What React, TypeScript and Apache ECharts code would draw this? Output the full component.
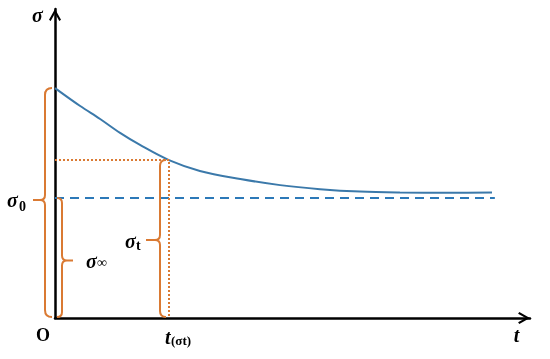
import { useEffect, useRef } from 'react';
import * as echarts from 'echarts';

// ---- data (unitless axes, 0..100) ----
const tValues = [0, 5.3, 9.5, 13.7, 17.9, 24.0, 30.5, 39.0, 47.4, 55.8, 64.2, 72.6, 83.2, 92.0];
const sigmaValues = [74.4, 68.6, 64.4, 59.9, 56.0, 51.1, 47.6, 45.0, 43.0, 41.7, 40.9, 40.6, 40.5, 40.6];
const sigma0 = 74.4;
const sigmaInf = 38.8;
const tAtSigmaT = 24.0;
const sigmaT = 51.1;
const asymptoteEnd = 92.6;
const xMax = 100;
const yMax = 100;

const braceSpans = [
  [0, 0, sigma0],
  [0, 0, sigmaInf],
  [tAtSigmaT, 0, sigmaT],
];
const braceMain = ['σ', 'σ', 'σ'];
const braceSub = ['0', '∞', 't'];

const axisAnchors = [
  [0, 0],
  [0, yMax],
  [xMax, 0],
  [tAtSigmaT, 0],
];

// ---- styles ----
const SERIF = '"Liberation Serif", "DejaVu Serif", serif';
const BLUE = '#3b79aa';
const BLUE_DASH = '#2c79b8';
const ORANGE = '#da7a33';
const ARROW = 'path://M0 10.6 L6 0 L12 10.6 L10.3 11.8 L6 4.2 L1.7 11.8 Z';

const braceLook = [
  { dx: -10, dir: -1, tip: 12, curl: 7, midShift: -2.5, labelDx: -26, labelDy: 0, subDx: 12, subDy: 6, subSize: 14, subWeight: 'bold' },
  { dx: 7, dir: 1, tip: 11, curl: 5, midShift: 3, labelDx: 13, labelDy: 0, subDx: 11, subDy: 2, subSize: 14, subWeight: 'normal' },
  { dx: -9, dir: -1, tip: 14, curl: 6, midShift: 1.5, labelDx: -21, labelDy: 1, subDx: 11, subDy: 4, subSize: 14, subWeight: 'bold' },
];

const axisLook = [
  { parts: [{ text: 'O', dx: -12, dy: 16.5, size: 18, style: 'normal', align: 'center' }] },
  { parts: [{ text: 'σ', dx: -17.5, dy: 5.6, size: 20, style: 'italic', align: 'center' }] },
  { parts: [{ text: 't', dx: -13.5, dy: 17, size: 20, style: 'italic', align: 'center' }] },
  {
    parts: [
      { text: 't', dx: -4, dy: 19, size: 20, style: 'italic', align: 'left' },
      { text: '(σt)', dx: 2, dy: 22, size: 13, style: 'normal', align: 'left' },
    ],
  },
];

function axisCommon(): any {
  return {
    type: 'value',
    axisLine: {
      show: true,
      onZero: true,
      lineStyle: { color: '#000', width: 2.5 },
      symbol: ['none', ARROW],
      symbolSize: [12, 12],
      symbolOffset: [0, -6],
    },
    axisTick: { show: false },
    axisLabel: { show: false },
    splitLine: { show: false },
  };
}

export default function App() {
  const ref = useRef<HTMLDivElement>(null);

  useEffect(() => {
    document.body.style.margin = '0';
    const chart = echarts.init(ref.current!, undefined, { renderer: 'svg' });

    const curve = tValues.map((t, i) => [t, sigmaValues[i]]);

    chart.setOption({
      animation: false,
      grid: { left: 55, right: 20, top: 9, bottom: 41 },
      xAxis: { ...axisCommon(), min: 0, max: xMax },
      yAxis: { ...axisCommon(), min: 0, max: yMax },
      series: [
        {
          type: 'line',
          data: [
            [0, sigmaInf],
            [asymptoteEnd, sigmaInf],
          ],
          showSymbol: false,
          lineStyle: { color: BLUE_DASH, width: 2, type: [9, 6] },
          z: 2,
        },
        {
          type: 'line',
          data: curve,
          smooth: 0.35,
          showSymbol: false,
          lineStyle: { color: BLUE, width: 2 },
          z: 3,
        },
        {
          type: 'line',
          data: [
            [0, sigmaT],
            [tAtSigmaT, sigmaT],
            [tAtSigmaT, 0],
          ],
          showSymbol: false,
          lineStyle: { color: ORANGE, width: 2, type: [2, 2] },
          z: 4,
        },
        {
          type: 'custom',
          coordinateSystem: 'cartesian2d',
          data: braceSpans,
          z: 5,
          renderItem: (params: any, api: any) => {
            const look = braceLook[params.dataIndex];
            const bottom = api.coord([api.value(0), api.value(1)]);
            const top = api.coord([api.value(0), api.value(2)]);
            const x = bottom[0] + look.dx;
            const yb = bottom[1] - 1;
            const yt = top[1];
            const ym = (yt + yb) / 2 + look.midShift;
            const d = look.dir;
            const c = look.curl;
            const k = 5;
            const tipX = x + d * look.tip;
            const pathData = [
              `M ${x - d * c} ${yt}`,
              `Q ${x} ${yt} ${x} ${yt + c}`,
              `L ${x} ${ym - k}`,
              `Q ${x} ${ym} ${x + d * k} ${ym}`,
              `L ${tipX} ${ym}`,
              `M ${x + d * k} ${ym}`,
              `Q ${x} ${ym} ${x} ${ym + k}`,
              `L ${x} ${yb - c}`,
              `Q ${x} ${yb} ${x - d * c} ${yb}`,
            ].join(' ');
            const lx = tipX + look.labelDx;
            const ly = ym + look.labelDy;
            return {
              type: 'group',
              children: [
                {
                  type: 'path',
                  shape: { pathData },
                  style: { stroke: ORANGE, lineWidth: 2, fill: 'none' },
                },
                {
                  type: 'text',
                  style: {
                    text: braceMain[params.dataIndex],
                    x: lx,
                    y: ly,
                    fill: '#000',
                    fontFamily: SERIF,
                    fontSize: 20,
                    fontWeight: 'bold',
                    fontStyle: 'italic',
                    align: 'left',
                    verticalAlign: 'middle',
                  },
                },
                {
                  type: 'text',
                  style: {
                    text: braceSub[params.dataIndex],
                    x: lx + look.subDx,
                    y: ly + look.subDy,
                    fill: '#000',
                    fontFamily: SERIF,
                    fontSize: look.subSize,
                    fontWeight: look.subWeight,
                    align: 'left',
                    verticalAlign: 'middle',
                  },
                },
              ],
            };
          },
        },
        {
          type: 'custom',
          coordinateSystem: 'cartesian2d',
          data: axisAnchors,
          z: 6,
          renderItem: (params: any, api: any) => {
            const look = axisLook[params.dataIndex];
            const p = api.coord([api.value(0), api.value(1)]);
            return {
              type: 'group',
              children: look.parts.map((part) => ({
                type: 'text',
                style: {
                  text: part.text,
                  x: p[0] + part.dx,
                  y: p[1] + part.dy,
                  fill: '#000',
                  fontFamily: SERIF,
                  fontSize: part.size,
                  fontWeight: 'bold',
                  fontStyle: part.style,
                  align: part.align,
                  verticalAlign: 'middle',
                },
              })),
            };
          },
        },
      ],
    });

    return () => chart.dispose();
  }, []);

  return (
    <div
      ref={ref}
      style={{ position: 'fixed', left: 0, top: 0, width: 550, height: 359 }}
    />
  );
}
